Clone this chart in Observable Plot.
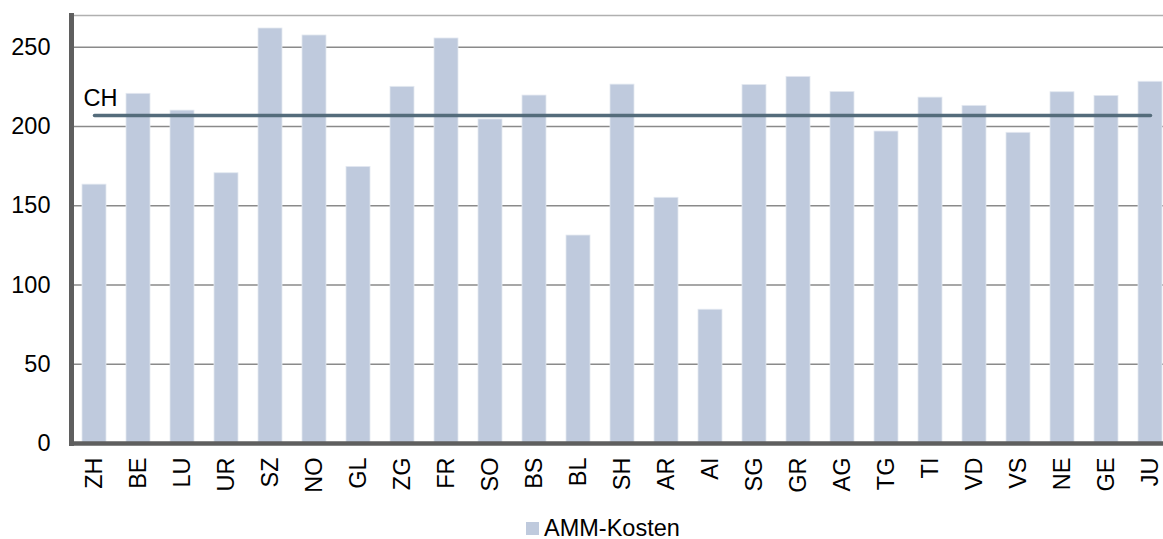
<!DOCTYPE html>
<html>
<head>
<meta charset="utf-8">
<script src="https://cdn.jsdelivr.net/npm/d3@7"></script>
<script src="https://cdn.jsdelivr.net/npm/@observablehq/plot@0.6"></script>
<style>
  html, body { margin: 0; padding: 0; background: #fff; overflow: hidden; }
  #wrap { position: relative; width: 1163px; height: 539px; font-family: "Liberation Sans", Arial, sans-serif; }
  #legend { position: absolute; left: 526px; top: 517px; display: flex; align-items: center; font-size: 23.5px; line-height: 1; color: #000; }
  #legend .sw { width: 13px; height: 13px; background: #bfcadd; margin-right: 5px; }
</style>
</head>
<body>
<div id="wrap">
  <div id="chart"></div>
  <div id="legend"><span class="sw"></span><span>AMM-Kosten</span></div>
</div>
<script>
const cantons = ["ZH","BE","LU","UR","SZ","NO","GL","ZG","FR","SO","BS","BL","SH","AR","AI","SG","GR","AG","TG","TI","VD","VS","NE","GE","JU"];
const costs   = [163.3,220.6,210,170.5,261.8,257.4,174.5,225,255.5,204.4,219.5,131.2,226.4,155,84.4,226.2,231.3,221.8,196.8,218.2,213,196,221.6,219.3,228.2];
const chLabel = "CH";
const chValue = 206.9;
const yTicks = [0, 50, 100, 150, 200, 250];
const yMax = 270;
const seriesName = "AMM-Kosten";

const rows = cantons.map((c, i) => ({canton: c, value: costs[i]}));
const chRows = [cantons[0], cantons[cantons.length - 1]].map(c => ({canton: c, value: chValue}));

const chart = Plot.plot({
  width: 1163,
  height: 505,
  marginLeft: 71,
  marginRight: 0,
  marginTop: 15,
  marginBottom: 62,
  style: {fontFamily: "'Liberation Sans', Arial, sans-serif", fontSize: "23.5px", color: "#000", background: "#fff", overflow: "visible"},
  x: {type: "band", domain: cantons, range: [71, 1173.5], paddingInner: 0.45, paddingOuter: 0.225,
      tickSize: 0, tickPadding: 14, tickRotate: -90, label: null, fontSize: 23.5},
  y: {domain: [0, yMax], ticks: yTicks, tickSize: 0, tickPadding: 21, label: null, tickFormat: d => String(d), fontSize: 23.5},
  marks: [
    Plot.ruleY(yTicks.filter(d => d > 0), {stroke: "#8a8a8a", strokeWidth: 1.5}),
    Plot.ruleY([yMax], {stroke: "#b0b0b0", strokeWidth: 1.5}),
    Plot.barY(rows, {x: "canton", y: "value", fill: "#bfcadd", stroke: "#e4e9f1", strokeWidth: 0.8}),
    Plot.line(chRows, {x: "canton", y: "value", stroke: "#546c7b", strokeWidth: 3.5, strokeLinecap: "round"}),
    Plot.text([chLabel], {x: () => cantons[0], y: () => chValue, text: d => d, textAnchor: "start", dx: -11, dy: -17, fontSize: 23.5, fill: "#000"}),
    Plot.ruleY([0], {stroke: "#5f5f5f", strokeWidth: 4.5}),
    Plot.frame({anchor: "left", stroke: "#5f5f5f", strokeWidth: 5})
  ]
});
document.getElementById("chart").appendChild(chart);
</script>
</body>
</html>
